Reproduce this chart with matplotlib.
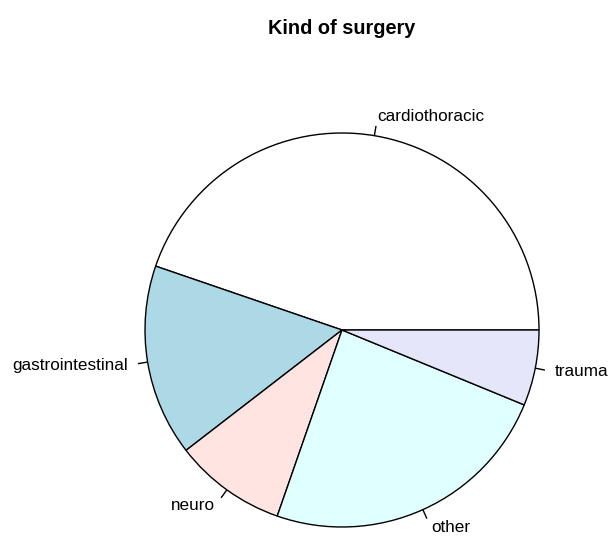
import numpy as np
import matplotlib
matplotlib.use("Agg")
import matplotlib.pyplot as plt

categories = ["cardiothoracic", "gastrointestinal", "neuro", "other", "trauma"]
values = [44.7, 15.7, 9.2, 24.1, 6.2]
colors = ["white", "lightblue", "mistyrose", "lightcyan", "lavender"]
title = "Kind of surgery"

plt.rcParams['font.family'] = ['Liberation Sans', 'DejaVu Sans']

W, H = 609, 536
fig = plt.figure(figsize=(W / 100, H / 100), dpi=100)
ax = fig.add_axes([0, 0, 1, 1])
cx, cy, r = 342, H - 330, 197

ax.pie(values, colors=colors, startangle=0, counterclock=True,
       center=(cx, cy), radius=r,
       wedgeprops=dict(edgecolor="black", linewidth=1.0))

vals = np.array(values, dtype=float)
cum = np.concatenate([[0], np.cumsum(vals) / vals.sum()])
for i, lab in enumerate(categories):
    a = 2 * np.pi * (cum[i] + cum[i + 1]) / 2
    ca, sa = np.cos(a), np.sin(a)
    ax.plot([cx + r * ca, cx + 1.05 * r * ca], [cy + r * sa, cy + 1.05 * r * sa],
            color="black", linewidth=1.0, solid_capstyle="butt")
    ax.text(cx + 1.1 * r * ca, cy + 1.1 * r * sa, lab, fontsize=12.3,
            ha="right" if ca < 0 else "left", va="center", color="black")

ax.text(cx, H - 28, title, fontsize=14.3, fontweight="bold", ha="center", va="center")

ax.set_xlim(0, W)
ax.set_ylim(0, H)
ax.set_aspect("equal")
ax.axis("off")
fig.savefig("out.png", dpi=100, facecolor="white")
